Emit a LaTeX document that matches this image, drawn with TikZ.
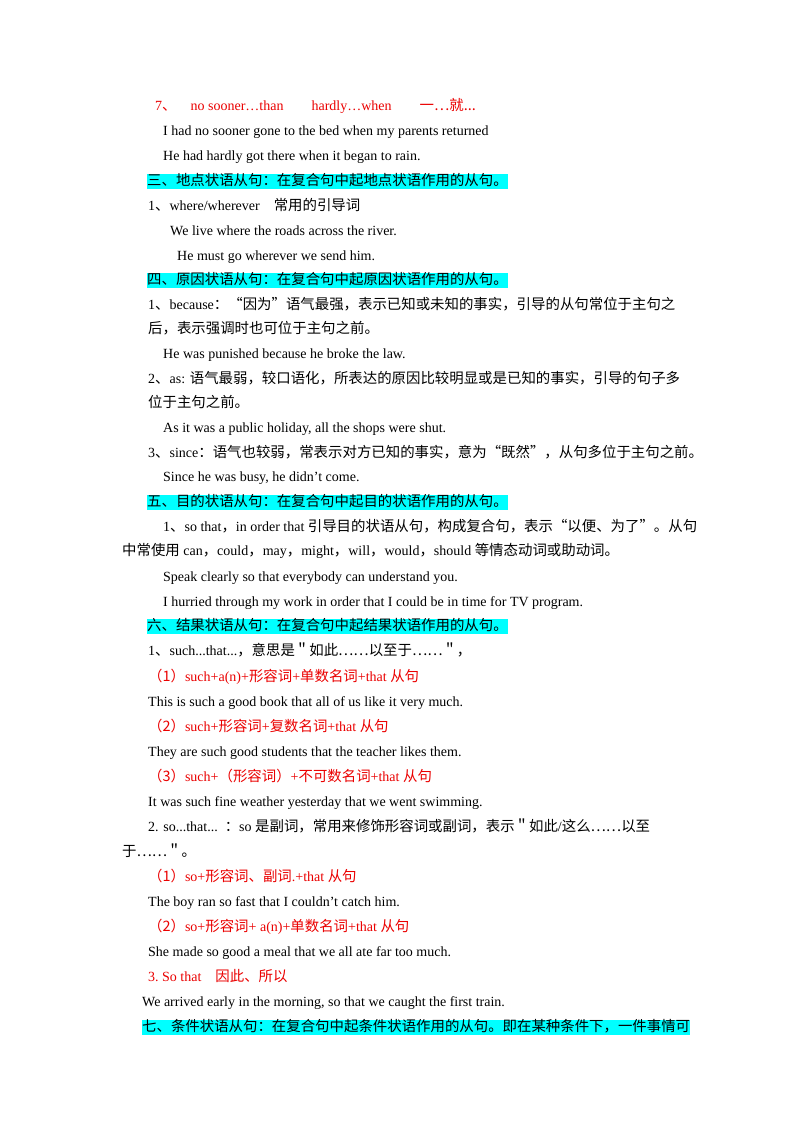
\documentclass[tikz,border=0pt]{standalone}
\usepackage{fontspec}
\setmainfont{Liberation Serif}
\newfontfamily\cjk[Scale=1.03]{Noto Sans CJK SC}
\newcommand{\z}[1]{{\cjk #1}}
\definecolor{hlc}{RGB}{0,255,255}
\definecolor{rd}{RGB}{235,0,0}
\begin{document}
\begin{tikzpicture}[x=1pt,y=-1pt,
 t/.style={anchor=west,inner sep=0pt,font=\fontsize{14}{15}\selectfont,text height=11.5pt,text depth=3.5pt},
 r/.style={t,text=rd},
 hl/.style={t,fill=hlc}]
\useasboundingbox (0,0) rectangle (800,1132);
\fill[white] (0,0) rectangle (800,1132);
\node[r] (l1) at (155,106) {7\z{、}\quad no sooner…than\qquad hardly…when\qquad \z{一…就...}};
\node[t] (l2) at (163,131) {I had no sooner gone to the bed when my parents returned};
\node[t] (l3) at (163,156) {He had hardly got there when it began to rain.};
\node[hl] (l4) at (147,181) {\z{三、地点状语从句：在复合句中起地点状语作用的从句。}};
\node[t] (l5) at (148,206) {1\z{、}where/wherever\quad \z{常用的引导词}};
\node[t] (l6) at (170,231) {We live where the roads across the river.};
\node[t] (l7) at (177,256) {He must go wherever we send him.};
\node[hl] (l8) at (147,280) {\z{四、原因状语从句：在复合句中起原因状语作用的从句。}};
\node[t] (l9) at (148,305) {1\z{、}because\z{：“因为”语气最强，表示已知或未知的事实，引导的从句常位于主句之}};
\node[t] (l10) at (148,329) {\z{后，表示强调时也可位于主句之前。}};
\node[t] (l11) at (163,354) {He was punished because he broke the law.};
\node[t] (l12) at (148,379) {2\z{、}as: \z{语气最弱，较口语化，所表达的原因比较明显或是已知的事实，引导的句子多}};
\node[t] (l13) at (148,403) {\z{位于主句之前。}};
\node[t] (l14) at (163,428) {As it was a public holiday, all the shops were shut.};
\node[t] (l15) at (148,453) {3\z{、}since\z{：语气也较弱，常表示对方已知的事实，意为“既然”，从句多位于主句之前。}};
\node[t] (l16) at (163,477) {Since he was busy, he didn’t come.};
\node[hl] (l17) at (147,502) {\z{五、目的状语从句：在复合句中起目的状语作用的从句。}};
\node[t] (l18) at (163,527) {1\z{、}so that\z{，}in order that \z{引导目的状语从句，构成复合句，表示“以便、为了”。从句}};
\node[t] (l19) at (122,551) {\z{中常使用} can\z{，}could\z{，}may\z{，}might\z{，}will\z{，}would\z{，}should \z{等情态动词或助动词。}};
\node[t] (l20) at (163,577) {Speak clearly so that everybody can understand you.};
\node[t] (l21) at (163,602) {I hurried through my work in order that I could be in time for TV program.};
\node[hl] (l22) at (147,626) {\z{六、结果状语从句：在复合句中起结果状语作用的从句。}};
\node[t] (l23) at (148,651) {1\z{、}such...that...\z{，意思是＂如此……以至于……＂，}};
\node[r] (l24) at (148,677) {\z{（1）}such+a(n)+\z{形容词}+\z{单数名词}+that \z{从句}};
\node[t] (l25) at (148,702) {This is such a good book that all of us like it very much.};
\node[r] (l26) at (148,727) {\z{（2）}such+\z{形容词}+\z{复数名词}+that \z{从句}};
\node[t] (l27) at (148,752) {They are such good students that the teacher likes them.};
\node[r] (l28) at (148,777) {\z{（3）}such+\z{（形容词）}+\z{不可数名词}+that \z{从句}};
\node[t] (l29) at (148,802) {It was such fine weather yesterday that we went swimming.};
\node[t] (l30) at (148,827) {2. so...that...\ \ \z{：}so \z{是副词，常用来修饰形容词或副词，表示＂如此}/\z{这么……以至}};
\node[t] (l31) at (122,852) {\z{于……＂。}};
\node[r] (l32) at (148,877) {\z{（1）}so+\z{形容词、副词}.+that \z{从句}};
\node[t] (l33) at (148,902) {The boy ran so fast that I couldn’t catch him.};
\node[r] (l34) at (148,927) {\z{（2）}so+\z{形容词}+ a(n)+\z{单数名词}+that \z{从句}};
\node[t] (l35) at (148,952) {She made so good a meal that we all ate far too much.};
\node[r] (l36) at (148,977) {3.\ So that\quad \z{因此、所以}};
\node[t] (l37) at (142,1002) {We arrived early in the morning, so that we caught the first train.};
\node[hl] (l38) at (142,1027) {\z{七、条件状语从句：在复合句中起条件状语作用的从句。即在某种条件下，一件事情可}};
\end{tikzpicture}
\end{document}
